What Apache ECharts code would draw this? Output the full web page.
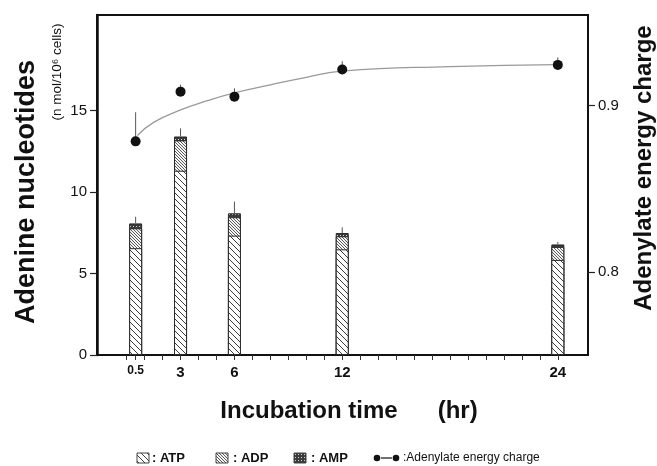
<!DOCTYPE html>
<html><head><meta charset="utf-8">
<script src="https://cdn.jsdelivr.net/npm/echarts@6/dist/echarts.min.js"></script>
<style>html,body{margin:0;padding:0;background:#fff}#c{width:657px;height:466px}</style>
</head><body><div id="c"></div>
<script>
// ---- data ----
const times = [0.5, 3, 6, 12, 24];
const atp = [6.55, 11.3, 7.32, 6.48, 5.83];
const adp = [1.22, 1.86, 1.13, 0.8, 0.8];
const amp = [0.3, 0.24, 0.24, 0.2, 0.15];
const totalErr = [0.41, 0.5, 0.72, 0.35, 0.15];
const energyCharge = [0.8785, 0.9084, 0.9054, 0.9217, 0.9245];
const energyErr = [0.0175, 0.0042, 0.005, 0.005, 0.0045];
const fitTimes = [0.6, 1.5, 3, 4.5, 6, 8, 10, 12, 18, 24];
const fitValues = [0.882, 0.8899, 0.8974, 0.903, 0.9077, 0.9125, 0.917, 0.9208, 0.9235, 0.9247];
const xTickValues = [0, 0.5, 1, 2, 3, 4, 5, 6, 7, 8, 9, 10, 11, 12, 13, 14, 15, 16, 17, 18, 19, 20, 21, 22, 23, 24];
const xLabelValues = [0.5, 3, 6, 12, 24];
const yLeftTicks = [0, 5, 10, 15];
const yRightTicks = [0.8, 0.9];

const FONT = '"Liberation Sans", Arial, Helvetica, sans-serif';

function hatch(size, lw, color, bg) {
  const c = document.createElement('canvas');
  c.width = size; c.height = size;
  const g = c.getContext('2d');
  g.fillStyle = bg; g.fillRect(0, 0, size, size);
  g.strokeStyle = color; g.lineWidth = lw;
  g.beginPath();
  for (const k of [-size, 0, size]) { g.moveTo(k, 0); g.lineTo(k + size, size); }
  g.stroke();
  return { image: c, repeat: 'repeat' };
}
function dots() {
  const c = document.createElement('canvas');
  c.width = 3; c.height = 3;
  const g = c.getContext('2d');
  g.fillStyle = '#3a3a3a'; g.fillRect(0, 0, 3, 3);
  g.fillStyle = '#d8d8d8'; g.fillRect(1, 1, 1, 1);
  return { image: c, repeat: 'repeat' };
}
const patATP = hatch(6, 1, '#3c3c3c', '#ffffff');
const patADP = hatch(3, 0.9, '#4a4a4a', '#f4f4f4');
const patAMP = dots();

// cumulative tops of the stacked segments
const topATP = atp.slice();
const topADP = atp.map((v, i) => v + adp[i]);
const topAMP = topADP.map((v, i) => v + amp[i]);
const pair = (arr) => arr.map((v, i) => [times[i], v]);

const chart = echarts.init(document.getElementById('c'), null, { renderer: 'canvas' });

function errRender(params, api) {
  const x = api.value(0), lo = api.value(1), hi = api.value(2);
  const p1 = api.coord([x, lo]), p2 = api.coord([x, hi]);
  return { type: 'line', shape: { x1: p1[0], y1: p1[1], x2: p2[0], y2: p2[1] },
    style: { stroke: '#555', lineWidth: 1 } };
}

const barStyle = (pat) => ({ color: pat, borderColor: '#2a2a2a', borderWidth: 1, opacity: 1 });

const option = {
  animation: false,
  backgroundColor: '#fff',
  textStyle: { fontFamily: FONT },
  grid: { left: 97, right: 69, top: 15, bottom: 111, show: true, borderColor: '#111', borderWidth: 2 },
  xAxis: {
    type: 'value', min: -1.65, max: 25.68,
    axisLine: { show: true, onZero: false, lineStyle: { color: '#111', width: 2 } },
    axisTick: { show: true, customValues: xTickValues, length: 5, lineStyle: { color: '#333', width: 1 } },
    axisLabel: {
      customValues: xLabelValues, margin: 10, color: '#111', fontSize: 15, fontWeight: 'bold', fontFamily: FONT,
      formatter: (v) => v === 0.5 ? '{s|0.5}' : String(v),
      rich: { s: { fontSize: 12, fontFamily: FONT, fontWeight: 'bold', color: '#111' } }
    },
    splitLine: { show: false }
  },
  yAxis: [{
    type: 'value', min: 0, max: 20.85, position: 'left',
    axisLine: { show: true, onZero: false, lineStyle: { color: '#111', width: 2.5 } },
    axisTick: { show: true, customValues: yLeftTicks, length: 7, lineStyle: { color: '#222', width: 1.2 } },
    axisLabel: { customValues: yLeftTicks, margin: 10, color: '#111', fontSize: 15, fontFamily: FONT },
    splitLine: { show: false }
  }, {
    type: 'value', min: 0.75, max: 0.9545, position: 'right',
    axisLine: { show: true, onZero: false, lineStyle: { color: '#111', width: 2 } },
    axisTick: { show: true, customValues: yRightTicks, length: 7, lineStyle: { color: '#222', width: 1.2 } },
    axisLabel: { customValues: yRightTicks, margin: 10, color: '#111', fontSize: 15, fontFamily: FONT,
      formatter: (v) => v.toFixed(1) },
    splitLine: { show: false }
  }],
  series: [
    { name: 'AMP', type: 'bar', barWidth: 13, barGap: '-100%', data: pair(topAMP), itemStyle: barStyle(patAMP), z: 2 },
    { name: 'ADP', type: 'bar', barWidth: 13, barGap: '-100%', data: pair(topADP), itemStyle: barStyle(patADP), z: 3 },
    { name: 'ATP', type: 'bar', barWidth: 13, barGap: '-100%', data: pair(topATP), itemStyle: barStyle(patATP), z: 4 },
    { name: 'nucleotide error', type: 'custom', renderItem: errRender, z: 5,
      data: times.map((t, i) => [t, topAMP[i], topAMP[i] + totalErr[i]]), encode: { x: 0, y: [1, 2] } },
    { name: 'fit', type: 'line', yAxisIndex: 1, smooth: true, symbol: 'none', z: 6,
      lineStyle: { color: '#9a9a9a', width: 1.3 }, data: fitTimes.map((t, i) => [t, fitValues[i]]) },
    { name: 'energy error', type: 'custom', yAxisIndex: 1, renderItem: errRender, z: 7,
      data: times.map((t, i) => [t, energyCharge[i], energyCharge[i] + energyErr[i]]), encode: { x: 0, y: [1, 2] } },
    { name: 'Adenylate energy charge', type: 'scatter', yAxisIndex: 1, symbol: 'circle', symbolSize: 10, z: 8,
      itemStyle: { color: '#111', opacity: 1 }, data: pair(energyCharge) }
  ],
  graphic: [
    { type: 'text', x: 27, y: 192, rotation: Math.PI / 2,
      style: { text: 'Adenine nucleotides', font: 'bold 27px ' + FONT, fill: '#111', align: 'center', verticalAlign: 'middle' } },
    { type: 'text', x: 57, y: 72, rotation: Math.PI / 2,
      style: { text: '(n mol/10⁶ cells)', font: '13.5px ' + FONT, fill: '#111', align: 'center', verticalAlign: 'middle' } },
    { type: 'text', x: 644, y: 168, rotation: Math.PI / 2,
      style: { text: 'Adenylate energy charge', font: 'bold 24px ' + FONT, fill: '#111', align: 'center', verticalAlign: 'middle' } },
    { type: 'text', x: 349, y: 411,
      style: { text: 'Incubation time      (hr)', font: 'bold 24px ' + FONT, fill: '#111', align: 'center', verticalAlign: 'middle' } },
    // legend
    { type: 'rect', shape: { x: 137, y: 453, width: 12, height: 10 }, style: { fill: patATP, stroke: '#444', lineWidth: 1 } },
    { type: 'text', x: 152, y: 458, style: { text: ': ATP', font: 'bold 13px ' + FONT, fill: '#111', verticalAlign: 'middle' } },
    { type: 'rect', shape: { x: 216, y: 453, width: 12, height: 10 }, style: { fill: patADP, stroke: '#444', lineWidth: 1 } },
    { type: 'text', x: 233, y: 458, style: { text: ': ADP', font: 'bold 13px ' + FONT, fill: '#111', verticalAlign: 'middle' } },
    { type: 'rect', shape: { x: 294, y: 453, width: 12, height: 10 }, style: { fill: patAMP, stroke: '#444', lineWidth: 1 } },
    { type: 'text', x: 311, y: 458, style: { text: ': AMP', font: 'bold 13px ' + FONT, fill: '#111', verticalAlign: 'middle' } },
    { type: 'circle', shape: { cx: 377, cy: 458, r: 3.3 }, style: { fill: '#111' } },
    { type: 'line', shape: { x1: 381, y1: 458, x2: 392, y2: 458 }, style: { stroke: '#111', lineWidth: 1.2 } },
    { type: 'circle', shape: { cx: 396, cy: 458, r: 3.3 }, style: { fill: '#111' } },
    { type: 'text', x: 403, y: 458, style: { text: ':Adenylate energy charge', font: '12px ' + FONT, fill: '#111', verticalAlign: 'middle' } }
  ]
};
chart.setOption(option);
</script>
</body></html>
